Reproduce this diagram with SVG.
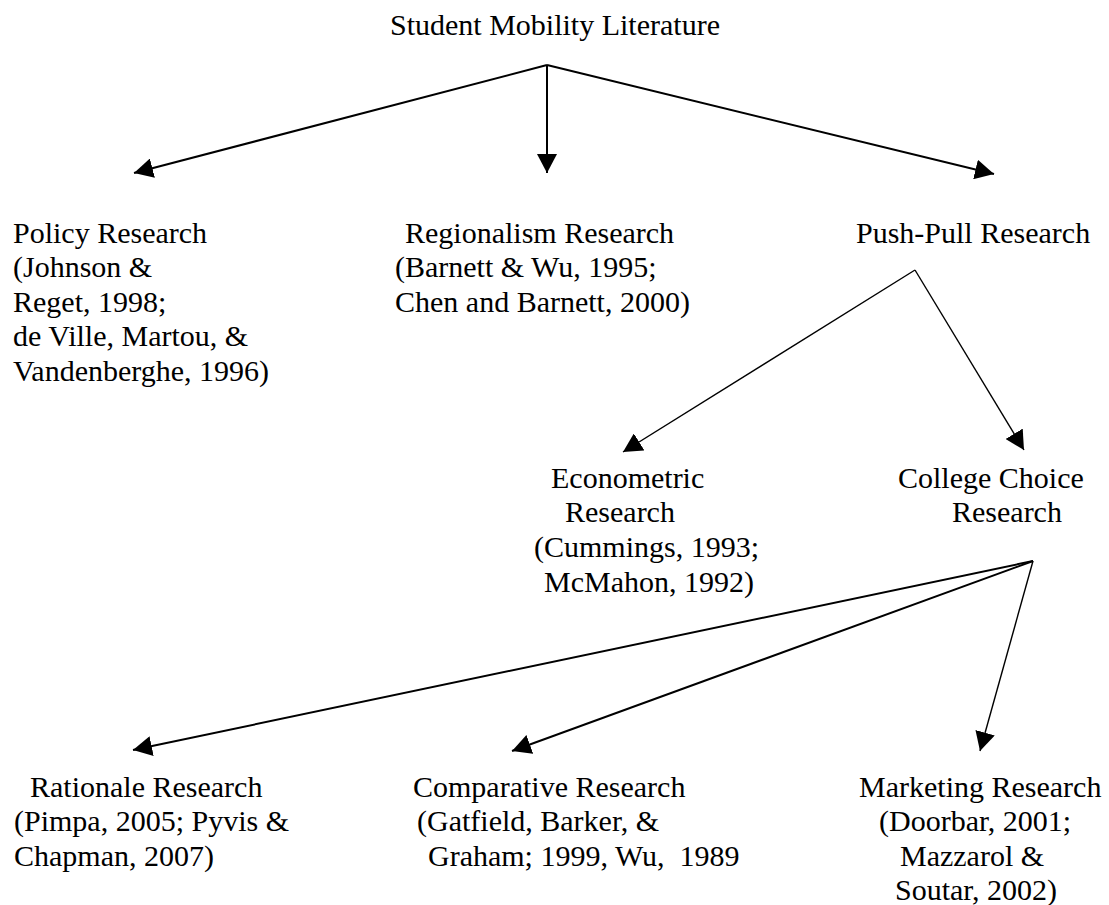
<svg xmlns="http://www.w3.org/2000/svg" width="1109" height="905" viewBox="0 0 1109 905">
<style>
text { font-family: "Liberation Serif", "Times New Roman", serif; font-size: 30px; fill: #000; }
.c { stroke: #000; fill: none; }
.thick { stroke-width: 2; }
.thin { stroke-width: 1.4; }
</style>
<defs>
<marker id="ah" markerUnits="userSpaceOnUse" markerWidth="20" markerHeight="20" refX="19" refY="10" orient="auto">
<path d="M0,0 L19,10 L0,20 z" fill="#000"/>
</marker>
</defs>
<rect width="1109" height="905" fill="#fff"/>
<g id="connectors">
<line class="c thick" x1="547" y1="65" x2="134" y2="173" marker-end="url(#ah)"/>
<line class="c thick" x1="547" y1="65" x2="547" y2="173" marker-end="url(#ah)"/>
<line class="c thick" x1="547" y1="65" x2="994" y2="174" marker-end="url(#ah)"/>
<line class="c thin" x1="915" y1="270" x2="623" y2="452" marker-end="url(#ah)"/>
<line class="c thin" x1="915" y1="270" x2="1024" y2="450" marker-end="url(#ah)"/>
<line class="c thick" x1="1033" y1="561" x2="133" y2="750" marker-end="url(#ah)"/>
<line class="c thick" x1="1033" y1="561" x2="512" y2="751" marker-end="url(#ah)"/>
<line class="c thin" x1="1033" y1="561" x2="980" y2="751" marker-end="url(#ah)"/>
</g>
<g id="root"><text x="390" y="35">Student Mobility Literature</text></g>
<g id="policy">
<text x="13" y="243">Policy Research</text>
<text x="13" y="277">(Johnson &amp;</text>
<text x="13" y="312">Reget, 1998;</text>
<text x="13" y="346">de Ville, Martou, &amp;</text>
<text x="13" y="381">Vandenberghe, 1996)</text>
</g>
<g id="regionalism">
<text x="405" y="243">Regionalism Research</text>
<text x="395" y="277">(Barnett &amp; Wu, 1995;</text>
<text x="395" y="312">Chen and Barnett, 2000)</text>
</g>
<g id="pushpull"><text x="856" y="243">Push-Pull Research</text></g>
<g id="econometric">
<text x="551" y="488">Econometric</text>
<text x="565" y="522">Research</text>
<text x="534" y="557">(Cummings, 1993;</text>
<text x="544" y="592">McMahon, 1992)</text>
</g>
<g id="collegechoice">
<text x="898" y="488">College Choice</text>
<text x="952" y="522">Research</text>
</g>
<g id="rationale">
<text x="30" y="797">Rationale Research</text>
<text x="14" y="831">(Pimpa, 2005; Pyvis &amp;</text>
<text x="14" y="866">Chapman, 2007)</text>
</g>
<g id="comparative">
<text x="413" y="797">Comparative Research</text>
<text x="417" y="831">(Gatfield, Barker, &amp;</text>
<text x="428" y="866" xml:space="preserve">Graham; 1999, Wu,  1989</text>
</g>
<g id="marketing">
<text x="859" y="797">Marketing Research</text>
<text x="879" y="831">(Doorbar, 2001;</text>
<text x="900" y="866">Mazzarol &amp;</text>
<text x="895" y="900">Soutar, 2002)</text>
</g>
</svg>
